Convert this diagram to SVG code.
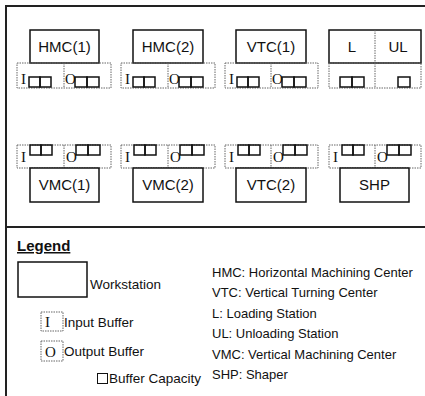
<svg xmlns="http://www.w3.org/2000/svg" width="425" height="396" viewBox="0 0 425 396">
<style>
.frame{fill:none;stroke:#222;stroke-width:2}
.ws{fill:#fff;stroke:#111;stroke-width:1.5}
.buf{fill:none;stroke:#666;stroke-width:1;stroke-dasharray:1.5,1}
.sq{fill:none;stroke:#111;stroke-width:1.5}
.lbl{font-family:"Liberation Sans",Arial,sans-serif;font-size:15px;fill:#111;text-anchor:middle}
.io{font-family:"Liberation Serif","Times New Roman",serif;font-size:15px;fill:#111}
.leg{font-family:"Liberation Sans",Arial,sans-serif;font-size:13px;fill:#111}
.legl{font-family:"Liberation Sans",Arial,sans-serif;font-size:13.5px;fill:#111}
.legt{font-family:"Liberation Sans",Arial,sans-serif;font-size:15px;font-weight:bold;fill:#111;text-decoration:underline}
</style>
<path class="frame" d="M6,400 V6 H426 M6,227 H426"/>
<g id="HMC1">
<rect class="ws" x="30" y="30" width="69" height="33"/>
<text class="lbl" x="64.5" y="52">HMC(1)</text>
<rect class="buf" x="17" y="63" width="94" height="25"/>
<line class="buf" x1="64" y1="63" x2="64" y2="88"/>
<text class="io" x="21" y="84">I</text>
<rect class="sq" x="29" y="77" width="11" height="10"/><rect class="sq" x="40" y="77" width="11" height="10"/>
<text class="io" x="65" y="84">O</text>
<rect class="sq" x="75" y="77" width="12" height="10"/><rect class="sq" x="87" y="77" width="12" height="10"/>
</g>
<g id="HMC2">
<rect class="ws" x="133" y="30" width="70" height="33"/>
<text class="lbl" x="168" y="52">HMC(2)</text>
<rect class="buf" x="121" y="63" width="94" height="25"/>
<line class="buf" x1="168" y1="63" x2="168" y2="88"/>
<text class="io" x="125" y="84">I</text>
<rect class="sq" x="133" y="77" width="11" height="10"/><rect class="sq" x="144" y="77" width="11" height="10"/>
<text class="io" x="169" y="84">O</text>
<rect class="sq" x="179" y="77" width="12" height="10"/><rect class="sq" x="191" y="77" width="12" height="10"/>
</g>
<g id="VTC1">
<rect class="ws" x="236" y="30" width="70" height="33"/>
<text class="lbl" x="271" y="52">VTC(1)</text>
<rect class="buf" x="225" y="63" width="93" height="25"/>
<line class="buf" x1="271" y1="63" x2="271" y2="88"/>
<text class="io" x="229" y="84">I</text>
<rect class="sq" x="237" y="77" width="11" height="10"/><rect class="sq" x="248" y="77" width="11" height="10"/>
<text class="io" x="272" y="84">O</text>
<rect class="sq" x="282" y="77" width="12" height="10"/><rect class="sq" x="294" y="77" width="12" height="10"/>
</g>
<g id="LUL">
<rect class="ws" x="329" y="30" width="92" height="33"/>
<line class="buf" x1="375" y1="30" x2="375" y2="63"/>
<text class="lbl" x="352" y="52">L</text>
<text class="lbl" x="398" y="52">UL</text>
<rect class="buf" x="329" y="63" width="92" height="25"/>
<line class="buf" x1="375" y1="63" x2="375" y2="88"/>
<rect class="sq" x="340" y="77" width="12" height="10"/><rect class="sq" x="352" y="77" width="12" height="10"/>
<rect class="sq" x="398" y="77" width="12" height="10"/>
</g>
<g id="VMC1">
<rect class="buf" x="17" y="145" width="94" height="23"/>
<line class="buf" x1="64" y1="145" x2="64" y2="168"/>
<text class="io" x="21" y="162">I</text>
<rect class="sq" x="30" y="145" width="11" height="10"/><rect class="sq" x="41" y="145" width="11" height="10"/>
<text class="io" x="66" y="162">O</text>
<rect class="sq" x="76" y="145" width="12" height="10"/><rect class="sq" x="88" y="145" width="12" height="10"/>
<rect class="ws" x="30" y="168" width="69" height="34"/>
<text class="lbl" x="64.5" y="190">VMC(1)</text>
</g>
<g id="VMC2">
<rect class="buf" x="121" y="145" width="94" height="23"/>
<line class="buf" x1="168" y1="145" x2="168" y2="168"/>
<text class="io" x="125" y="162">I</text>
<rect class="sq" x="134" y="145" width="11" height="10"/><rect class="sq" x="145" y="145" width="11" height="10"/>
<text class="io" x="170" y="162">O</text>
<rect class="sq" x="180" y="145" width="12" height="10"/><rect class="sq" x="192" y="145" width="12" height="10"/>
<rect class="ws" x="133" y="168" width="70" height="34"/>
<text class="lbl" x="168" y="190">VMC(2)</text>
</g>
<g id="VTC2">
<rect class="buf" x="225" y="145" width="93" height="23"/>
<line class="buf" x1="271" y1="145" x2="271" y2="168"/>
<text class="io" x="229" y="162">I</text>
<rect class="sq" x="238" y="145" width="11" height="10"/><rect class="sq" x="249" y="145" width="11" height="10"/>
<text class="io" x="273" y="162">O</text>
<rect class="sq" x="283" y="145" width="12" height="10"/><rect class="sq" x="295" y="145" width="12" height="10"/>
<rect class="ws" x="236" y="168" width="70" height="34"/>
<text class="lbl" x="271" y="190">VTC(2)</text>
</g>
<g id="SHP">
<rect class="buf" x="329" y="145" width="92" height="23"/>
<line class="buf" x1="375" y1="145" x2="375" y2="168"/>
<text class="io" x="333" y="162">I</text>
<rect class="sq" x="342" y="145" width="11" height="10"/><rect class="sq" x="353" y="145" width="11" height="10"/>
<text class="io" x="377" y="162">O</text>
<rect class="sq" x="387" y="145" width="12" height="10"/><rect class="sq" x="399" y="145" width="12" height="10"/>
<rect class="ws" x="340" y="168" width="69" height="34"/>
<text class="lbl" x="374.5" y="190">SHP</text>
</g>
<g id="legend">
<text class="legt" x="17" y="251">Legend</text>
<rect class="ws" x="18" y="262" width="69" height="35"/>
<text class="legl" x="90" y="289">Workstation</text>
<rect class="buf" x="41" y="312" width="22" height="19"/>
<text class="io" x="45" y="327">I</text>
<text class="legl" x="64" y="327">Input Buffer</text>
<rect class="buf" x="41" y="341" width="22" height="20"/>
<text class="io" x="45" y="357">O</text>
<text class="legl" x="64" y="356">Output Buffer</text>
<rect fill="none" stroke="#111" stroke-width="1" x="97.5" y="373.5" width="10" height="10"/>
<text class="legl" x="109" y="383">Buffer Capacity</text>
<text class="leg" x="212" y="277">HMC: Horizontal Machining Center</text>
<text class="leg" x="212" y="297">VTC: Vertical Turning Center</text>
<text class="leg" x="212" y="318">L: Loading Station</text>
<text class="leg" x="212" y="338">UL: Unloading Station</text>
<text class="leg" x="212" y="359">VMC: Vertical Machining Center</text>
<text class="leg" x="212" y="379">SHP: Shaper</text>
</g>
</svg>
